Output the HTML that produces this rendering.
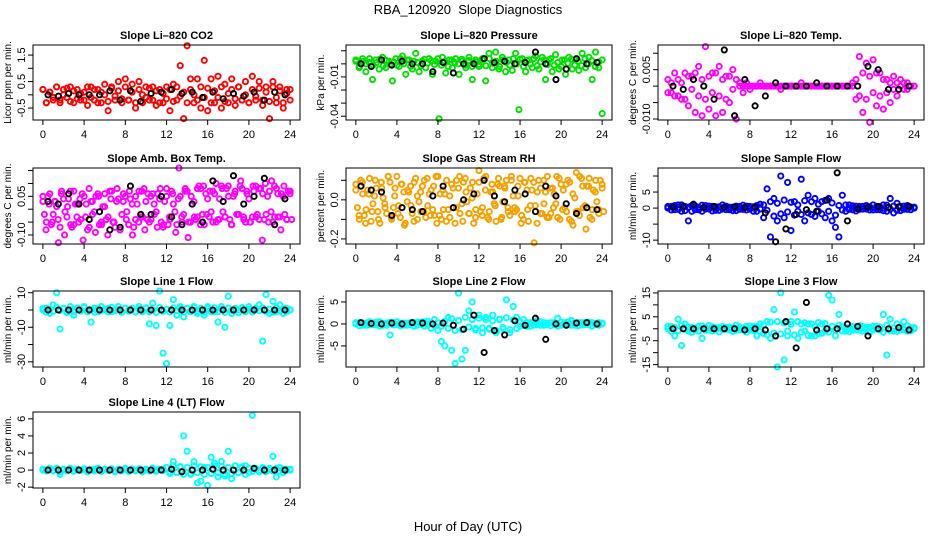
<!DOCTYPE html>
<html><head><meta charset="utf-8">
<style>
html,body{margin:0;padding:0;background:#fff;}
svg{display:block;font-family:"Liberation Sans",sans-serif;}
</style></head>
<body>
<svg id="chart" width="936" height="540" viewBox="0 0 936 540">
<text x="468" y="14" text-anchor="middle" font-size="13">RBA_120920&#160; Slope Diagnostics</text>
<text x="468" y="531" text-anchor="middle" font-size="13">Hour of Day (UTC)</text>
</svg>
<script>
// ---- data ----
const xTicks = [0,4,8,12,16,20,24];
const co2C = [0.2,-0.3,0.1,-0.2,0.3,-0.3,0.2,-0.1,0.3,-0.3,0.2,-0.2,0.1,-0.4,0.3,-0.2,0.2,-0.3,0.4,-0.6,0.3,-0.2,0.5,-0.3,0.6,-0.2,0.4,-0.5,0.5,-0.3,0.3,-0.2,0.3,-0.4,0.2,-0.3,0.3,-0.6,0.4,-0.2,1.1,-0.9,1.85,0.6,-0.3,0.6,-0.5,1.3,-0.6,0.6,-0.3,0.7,-0.5,0.4,-0.3,0.6,-0.4,0.3,-0.2,0.5,-0.3,0.7,-0.2,0.5,-0.4,0.3,-0.9,0.5,-0.3,0.3,-0.5,0.2,-0.2];
const co2B = [0.2,-0.3,0.1,-0.1,0.3,-0.2,0,0.25,-0.25,0.15,-0.15,0.05,-0.2,0.3,-0.1,0.2,-0.3,0.1,0,-0.25,0.25,-0.05,0.15,-0.15,0.3,-0.2,0.1,-0.3,0.2,0,-0.1,0.25,-0.2,0.15,-0.3,0.05,-0.15,0.2,-0.25,0.3,-0.05,0.1,-0.3,0.2,0,-0.2,0.3,-0.1,0.25,-0.3,0.15,-0.1,0.3,-0.25,0.05,0.2,-0.15,0.3,-0.2,0,-0.3,0.2,-0.05,0.25,-0.2,0.1,-0.25,0.3,-0.1,0.15,-0.3,0.05,0.2];
const co2K = [0.0,-0.05,0.05,0.0,0.0,0.0,0.15,-0.2,0.15,-0.25,0.05,0.1,0.2,0.05,0.1,-0.1,0.1,-0.15,0.05,-0.05,0.1,-0.2,0.1,0.0];
const presC = [0.002,-0.003,0.004,-0.006,0.001,-0.012,0.003,-0.004,0.005,-0.003,0.002,-0.013,0.004,-0.002,0.006,-0.008,0.003,-0.004,0.008,-0.006,0.002,-0.003,0.004,-0.008,0.002,-0.042,0.005,-0.007,0.003,-0.003,0.004,-0.008,0.002,-0.003,0.005,-0.012,0.003,-0.002,0.004,-0.013,0.008,-0.003,0.009,-0.004,0.005,-0.006,0.003,-0.005,0.008,-0.035,0.004,-0.006,0.003,-0.003,0.006,-0.004,0.005,-0.012,0.003,-0.006,0.007,-0.004,0.003,-0.008,0.005,-0.004,0.003,-0.005,0.008,-0.003,0.005,-0.012,0.009,-0.003,-0.038];
const presB = [0.003,-0.002,0.002,0,0.004,-0.001,0.001,0.0035,-0.0015,0.0025,-0.0005,0.0015,-0.001,0.004,0,0.003,-0.002,0.002,0.001,-0.0015,0.0035,0.0005,0.0025,-0.0005,0.004,-0.001,0.002,-0.002,0.003,0.001,0,0.0035,-0.001,0.0025,-0.002,0.0015,-0.0005,0.003,-0.0015,0.004,0.0005,0.002,-0.002,0.003,0.001,-0.001,0.004,0,0.0035,-0.002,0.0025,0,0.004,-0.0015,0.0015,0.003,-0.0005,0.004,-0.001,0.001,-0.002,0.003,0.0005,0.0035,-0.001,0.002,-0.0015,0.004,0,0.0025,-0.002,0.0015,0.003];
const presK = [0,-0.002,0.003,-0.001,0.002,0,0,-0.006,0.001,-0.007,0,0,0.004,0.001,0.002,0,0.001,0.009,0,-0.012,-0.004,0.004,0,0.001];
const tempC = [-0.002,0.001,-0.003,0.002,-0.004,0.004,-0.006,0.003,-0.008,0.006,-0.009,0.012,-0.007,0.004,-0.009,0.006,-0.008,0.003,-0.005,0.005,-0.010,0.001,-0.002,0.001,-0.001,0,0,0.001,0,0,0,0,0,-0.001,0,0,0,0,0,0.001,0,0,0,0,0,0,0,0,0,0,0,0,0,0,0.001,-0.004,0.009,-0.008,0.007,-0.011,0.008,-0.006,0.004,-0.007,0.002,-0.005,0.003,-0.003,0.002,-0.001,0.001,0,0];
const tempB = [0.002,-0.002,0.004,-0.003,0.001,-0.004,0.003,-0.001,0.004,-0.003,0.002,-0.004,0.003,-0.002,0.004,-0.003,0.002,-0.004,0.003,-0.001,0.002,0,0,0,0,0,0,0,0,0,0,0,0,0,0,0,0,0,0,0,0,0,0,0,0,0,0,0,0,0,0,0,0,0,0,0.002,-0.003,0.004,-0.004,0.003,-0.002,0.004,-0.003,0.002,-0.002,0.001,-0.001,0.001,0,0.001,-0.001,0,0];
const tempK = [0,-0.001,0.002,0,-0.004,0.011,-0.009,0.002,-0.006,-0.003,0.001,0,0,0,0.001,0,0,0,0,0.006,0.005,-0.001,-0.001,0];
const ambC = [0.05,-0.08,0.02,-0.05,0.03,-0.13,0.06,-0.10,0.01,-0.06,0.07,-0.03,0.04,-0.12,0.02,-0.07,0.03,-0.09,0.05,-0.06,0.06,-0.10,0.04,-0.05,0.08,-0.08,0.03,-0.04,0.07,-0.10,0.05,-0.05,0.07,-0.08,0.06,-0.04,0.02,-0.07,0.08,-0.06,0.05,-0.03,0.06,-0.09,0.16,-0.05,0.07,-0.11,0.05,-0.03,0.08,-0.06,0.09,-0.02,0.07,-0.05,0.10,-0.04,0.08,-0.03,0.09,-0.06,0.06,-0.02,0.11,-0.04,0.07,-0.05,0.09,-0.03,0.08,-0.12,0.10,-0.05,0.11,-0.03,0.06,-0.08,0.09,-0.04,0.07];
const ambB = [0.03,-0.05,0.06,-0.02,0.01,-0.07,0.04,-0.03,0.07,-0.06,0.02,-0.04,0.05,-0.08,0.03,-0.01,0.06,-0.05,0.01,-0.03,0.07,-0.07,0.04,-0.02,0.05,-0.06,0.02,-0.04,0.07,-0.03,0.03,-0.05,0.06,-0.01,0.04,-0.07,0.08,-0.04,0.02,-0.06,0.05,-0.02,0.07,-0.05,0.03,-0.03,0.08,-0.06,0.04,-0.01,0.06,-0.04,0.09,-0.03,0.05,-0.06,0.07,-0.02,0.08,-0.05,0.04,-0.03,0.09,-0.04,0.06,-0.02,0.07,-0.05,0.08,-0.03,0.05,-0.04,0.06];
const ambB2 = [-0.02,0.05,-0.06,0.03,-0.04,0.07,-0.01,0.04,-0.07,0.02,-0.05,0.06,-0.03,0.08,-0.02,0.05,-0.06,0.01,-0.04,0.07,-0.05,0.03,-0.08,0.06,-0.01,0.04,-0.07,0.02,-0.03,0.08,-0.04,0.05,-0.02,0.06,-0.05,0.03,-0.06,0.07,-0.01,0.04,-0.03,0.08,-0.05,0.02,-0.04,0.09,-0.02,0.06,-0.03,0.07,-0.05,0.04,-0.01,0.08,-0.04,0.05,-0.02,0.09,-0.03,0.06,-0.05,0.07,-0.02,0.08,-0.04,0.05,-0.01,0.09,-0.03,0.06,-0.02,0.07,-0.04];
const ambK = [0.03,0.02,0.06,0.02,-0.04,-0.01,-0.08,-0.07,0.09,-0.02,-0.02,0.05,-0.03,-0.06,0.02,-0.05,0.11,0.03,0.13,0.02,0.05,0.12,-0.06,0.04];
const rhC = [0.05,-0.08,0.09,-0.12,0.03,-0.06,0.10,-0.10,0.06,-0.04,0.12,-0.09,0.02,-0.07,0.08,-0.13,0.05,-0.03,0.09,-0.10,0.04,-0.06,0.11,-0.08,0.07,-0.12,0.03,-0.05,0.10,-0.09,0.06,-0.04,0.12,-0.11,0.04,-0.07,0.09,-0.05,0.15,-0.08,0.05,-0.10,0.08,-0.03,0.11,-0.09,0.06,-0.06,0.10,-0.04,0.07,-0.12,0.09,-0.05,0.11,-0.22,0.04,-0.07,0.10,-0.09,0.06,-0.04,0.12,-0.10,0.05,-0.06,0.09,-0.13,0.14,-0.08,0.07,-0.15,0.11,-0.05,0.10,-0.07,0.06];
const rhB = [0.08,-0.1,0.03,-0.05,0.11,-0.02,0.06,-0.12,0.01,-0.07,0.09,-0.04,0.12,-0.09,0.04,-0.01,0.07,-0.11,0.02,-0.06,0.1,-0.03,0.05,-0.08,0.12,-0.1,0.03,-0.05,0.08,-0.12,0.06,-0.02,0.11,-0.07,0.01,-0.09,0.09,-0.04,0.12,-0.06,0.04,-0.11,0.07,-0.01,0.1,-0.08,0.02,-0.05,0.11,-0.1,0.05,-0.03,0.09,-0.12,0.06,-0.02,0.12,-0.07,0.03,-0.09,0.08,-0.04,0.1,-0.11,0.01,-0.06,0.11,-0.03,0.07,-0.1,0.04,-0.05,0.08];
const rhB2 = [-0.04,0.1,-0.08,0.05,-0.11,0.02,-0.06,0.09,-0.02,0.12,-0.1,0.06,-0.03,0.08,-0.12,0.04,-0.07,0.11,-0.01,0.07,-0.09,0.03,-0.05,0.12,-0.08,0.05,-0.11,0.02,-0.04,0.1,-0.07,0.09,-0.01,0.06,-0.12,0.03,-0.06,0.11,-0.09,0.04,-0.02,0.08,-0.1,0.07,-0.04,0.12,-0.06,0.02,-0.08,0.09,-0.11,0.05,-0.03,0.1,-0.07,0.04,-0.09,0.06,-0.02,0.11,-0.05,0.08,-0.1,0.03,-0.06,0.12,-0.04,0.07,-0.09,0.05,-0.01,0.1,-0.06];
const rhK = [0.07,0.05,0.04,-0.08,-0.04,-0.05,-0.06,0.02,0.07,-0.04,0.0,0.03,0.10,0.02,-0.01,0.05,0.03,-0.06,0.07,0.02,-0.02,-0.07,-0.04,-0.05];
const sfC = [0,0.5,-0.5,1,-1,0.5,-4,0.8,-0.5,0.3,-1,0.8,-0.3,0.5,-0.7,0.4,-0.3,0.6,-0.5,0.3,-0.8,0.5,-0.4,0.6,-0.3,0.4,-1,1.2,-3,6,-9,3,-4,10,-3,8,-7,2,-1,9,-4,4,-2,3,-1,2,-3,3,-4,-6,-9,4,-1,1,-0.5,0.6,-0.4,0.5,-0.3,0.4,-0.6,0.5,-0.5,1,-1,3,-1.5,1.5,-0.8,0.6,-0.4,0.3,0];
const sfB = [0.5,-0.6,0.8,-0.4,1,-0.8,0.3,-1,0.7,-0.5,0.9,-0.3,0.6,-0.9,0.4,-0.7,1,-0.5,0.3,-0.8,0.6,-0.4,0.9,-0.6,0.5,-1,0.8,-0.3,1,-0.7,2,-2.5,1.5,-1.8,2.5,-1.2,1.8,-2.2,1,-2,2.3,-1.5,2,-2.6,1.2,-1.8,2.4,-1,1.6,-2.2,0.8,-0.6,1,-0.4,0.7,-0.9,0.5,-0.3,0.8,-0.6,1,-0.5,0.4,-0.8,0.9,-0.3,0.6,-0.7,0.5,-0.4,0.8,-0.5,0.3];
const sfK = [0.3,0.5,1.2,0.2,0.5,0.3,0.4,0.2,0.3,-1.5,-10.5,-6.5,-2,-0.5,-1,2.5,11,-4,-0.2,0.3,0.5,0.2,0.4,0.5];
const l1C = [0,1,-2,3,10,-11,1,-1,2,-3,1,0,2,-1,-7,1,-1,2,0,1,-1,0,2,-1,1,0,1,-1,2,-1,1,-8,4,-9,11,-25,-31,-9,6,-3,2,-4,1,-1,2,-2,1,-3,2,-1,-1,-7,2,-10,8,-2,1,0,1,-1,2,-1,0,3,-18,9,-2,5,-1,3,-2,1,0];
const l1B = [1,-1.2,0.5,-0.8,1.5,-0.3,0.8,-1.5,0.2,-1,1.2,-0.6,1.4,-0.9,0.4,-1.3,1,-0.2,0.7,-1.1,1.5,-0.5,0.3,-1.4,1.1,-0.7,0.9,-1.2,0.6,-0.4,1.3,-1,0.2,-1.5,1.4,-0.8,0.5,-1.1,1.2,-0.3,0.8,-1.3,1,-0.6,1.5,-0.9,0.4,-1.2,0.9,-0.5,1.3,-1,0.6,-1.4,1.1,-0.2,0.7,-1.5,1.4,-0.7,0.3,-1.1,1,-0.4,1.2,-0.9,0.5,-1.3,1.5,-0.6,0.8,-1,0.2];
const l1K = [0,0,0,0,0,0,0,0,0,0,0,0,0,0,0,0,0,0,0,0,0,0,0,0];
const l2C = [0,0.3,-0.3,0.2,-0.2,0.3,-0.2,0.5,-0.3,0.2,-2.5,0.3,-0.2,0.2,-0.3,0.2,-0.2,0.3,-0.3,0.4,-0.5,0.6,-1,1,-1.5,-4,-5,1.5,-6,-9,7,-8,-6,3,5,-1,2,-2,1,-1,2,-2,1,-1,5.5,-2,4,1.5,-0.5,1,-0.5,0.3,-0.3,0.8,-0.3,0.3,-0.2,0.3,-0.2,1.3,-0.3,0.3,-0.2,0.8,-0.3,0.3,-0.2,0.3,-0.2,0.3,-0.2,0.3,0];
const l2B = [0.3,-0.4,0.2,-0.3,0.5,-0.2,0.4,-0.5,0.1,-0.3,0.4,-0.2,0.5,-0.4,0.2,-0.3,0.3,-0.5,0.4,-0.1,0.5,-0.3,0.2,-0.4,0.3,-0.5,0.6,-1,1.2,-1.5,0.8,-1.3,1.5,-0.7,1,-1.4,1.3,-0.9,1.5,-1.2,0.7,-1.5,1.1,-0.8,1.4,-1.3,0.9,-1,0.5,-0.4,0.3,-0.5,0.4,-0.2,0.5,-0.3,0.2,-0.4,0.3,-0.5,0.4,-0.1,0.5,-0.3,0.2,-0.4,0.3,-0.2,0.4,-0.5,0.1,-0.3,0.2];
const l2K = [0.3,0.1,0,0.2,0,0.3,0.2,0,0.2,-0.3,-1.2,2,-6.5,-1.5,-2.5,0.7,-0.3,1.3,-3.5,0,-0.3,0.2,0.3,0];
const l3C = [0,1,-3,4,-7,2,-1,0.5,-0.5,1,-4,0.5,-0.5,0.8,-0.5,0.5,-0.3,0.6,-0.5,0.4,-0.6,0.8,-0.5,1,-0.5,1,-3,2,-2,3,-4,8,-16,15,-13,-1,3,7,-4,2,-1,2,-3,1,-2,2,-1,14,12,-3,6,1,-1,0.5,-0.5,0.8,-0.5,1,-0.3,0.5,-0.5,1,-0.5,6,-11,4,-1,2,-0.5,3,-1,0.5,0];
const l3B = [1,-1.2,0.5,-0.8,1.5,-0.3,0.8,-1.5,0.2,-1,1.2,-0.6,1.4,-0.9,0.4,-1.3,1,-0.2,0.7,-1.1,1.5,-0.5,0.3,-1.4,1.1,-0.7,0.9,-1.2,1.6,-2.5,2.8,-1.8,3,-2.2,2.4,-3,1.8,-2.6,3,-1.5,2.5,-2.8,2,-3,2.6,-1.9,2.2,-1.4,1,-0.6,1.5,-0.9,0.4,-1.2,0.9,-0.5,1.3,-1,0.6,-1.4,1.1,-0.2,0.7,-1.5,1.4,-0.7,0.3,-1.1,1,-0.4,1.2,-0.9,0.5];
const l3K = [0,0,0,0,0,0,0,-0.5,0,-0.5,-3,3,-8,11,-0.5,0,0,2,1,-3,0,0,0.5,-0.5];
const l4C = [0,0,0.1,-0.1,0.2,-0.5,0.1,0,0.1,-0.1,0.1,0,0.1,-0.1,0,0.1,0,-0.1,0.1,0,0.1,-0.1,0.1,0,0.1,0,0.1,-0.1,0.1,0,0.1,-0.1,0.2,0,0.1,0.1,0.3,-0.2,1,-0.3,0.4,4,2.2,-0.5,1,-1.5,-1.3,0.3,-1.8,1.5,0.8,-0.8,1,-0.7,2.2,-1,0.5,-0.3,0.3,0.5,-0.3,6.4,0.2,-0.2,0.3,-0.1,0.2,1.6,-0.8,0.3,-0.3,0.1,0];
const l4B = [0.1,-0.1,0.2,-0.05,0.15,-0.2,0.05,-0.1,0.2,-0.15,0.1,-0.05,0.15,-0.2,0.05,-0.1,0.2,-0.15,0.1,-0.05,0.15,-0.2,0.05,-0.1,0.2,-0.15,0.1,-0.05,0.15,-0.2,0.05,-0.1,0.2,-0.15,0.1,-0.05,0.3,-0.4,0.5,-0.3,0.4,-0.5,0.3,-0.4,0.5,-0.3,0.4,-0.5,0.3,-0.4,0.5,-0.3,0.4,-0.5,0.3,-0.4,0.5,-0.3,0.4,-0.5,0.2,-0.15,0.1,-0.05,0.15,-0.2,0.05,-0.1,0.2,-0.15,0.1,-0.05,0.1];
const l4K = [0,0,0,0,0,0,0,0,0,0,0,0,0.1,-0.2,0,0,0.1,0,0,0,0.2,0,0,0];

const panelTitles = ["Slope Li\u2013820 CO2","Slope Li\u2013820 Pressure","Slope Li\u2013820 Temp.","Slope Amb. Box Temp.","Slope Gas Stream RH","Slope Sample Flow","Slope Line 1 Flow","Slope Line 2 Flow","Slope Line 3 Flow","Slope Line 4 (LT) Flow"];
const yLabels = ["Licor ppm per min.","kPa per min.","degrees C per min.","degrees C per min.","percent per min.","ml/min per min.","ml/min per min.","ml/min per min.","ml/min per min.","ml/min per min."];
const yTicks = [[-0.5,0,0.5,1,1.5],[0.01,0,-0.01,-0.02,-0.03,-0.04],[0.01,0.005,0,-0.005,-0.01],[0.15,0.1,0.05,0,-0.05,-0.1],[0.1,0,-0.1,-0.2],[10,5,0,-5,-10],[10,0,-10,-20,-30],[5,0,-5],[15,10,5,0,-5,-10,-15],[6,4,2,0,-2]];
const yTickLabels = [["-0.5","","0.5","","1.5"],["","","-0.01","","","-0.04"],["","0.005","","","-0.010"],["","","0.05","","","-0.10"],["","0.0","","-0.2"],["","5","0","","-10"],["10","","-10","","-30"],["5","0","-5"],["15","","5","","-5","","-15"],["6","4","2","0","-2"]];
const bandSeries = [[co2B],[presB],[tempB],[ambB,ambB2],[rhB,rhB2],[sfB],[l1B],[l2B],[l3B],[l4B]];
const colorSeries = [co2C,presC,tempC,ambC,rhC,sfC,l1C,l2C,l3C,l4C];
const blackSeries = [co2K,presK,tempK,ambK,rhK,sfK,l1K,l2K,l3K,l4K];

// ---- layout (not data) ----
const colors = ["#ff0000","#00e000","#ff00ff","#ff00ff","#f5a000","#0000ff","#00ffff","#00ffff","#00ffff","#00ffff"];
const yDomains = [[-0.95,1.88],[-0.0429,0.0144],[-0.0103,0.0125],[-0.135,0.16],[-0.226,0.163],[-11.2,12.5],[-33,11],[-9.8,7.5],[-16,15.8],[-2.1,6.8]];
const cols = [[33,300],[346,612],[658,924]];
const rows = [[45,120,138],[168,244,262],[291,367,385],[412,488,506]];
const NS = "http://www.w3.org/2000/svg";
const svg = document.getElementById('chart');
function mk(tag, attrs, parent){const e=document.createElementNS(NS,tag);for(const k in attrs)e.setAttribute(k,attrs[k]);(parent||svg).appendChild(e);return e;}

for (let p=0;p<10;p++){
  const c = cols[p%3], r = rows[Math.floor(p/3)];
  const L=c[0],R=c[1],T=r[0],B=r[1];
  const xs = v => L + (v+0.96)/25.92*(R-L);
  const ys = v => B - (v-yDomains[p][0])/(yDomains[p][1]-yDomains[p][0])*(B-T);
  const g = mk('g',{});
  
  
  const t = mk('text',{x:(L+R)/2,y:T-6,'text-anchor':'middle','font-size':11,'font-weight':'bold'},g);
  t.textContent = panelTitles[p];
  
  
  const yl = mk('text',{x:0,y:0,'text-anchor':'middle','font-size':10,transform:`translate(${L-22},${(T+B)/2}) rotate(-90)`},g);
  yl.textContent = yLabels[p];
  
  
  // dense band series
  bandSeries[p].forEach((bs,bi)=>{
    bs.forEach((v,i)=>{
      const off = bi*0.15;
      const ci = mk('circle',{cx:xs(i*24/(bs.length-1)+off),cy:ys(v),r:2.6,fill:'none',stroke:colors[p],'stroke-width':1.9},g);
      
      
    });
  });
  // colored series
  const cs = colorSeries[p];
  cs.forEach((v,i)=>{
    const ci = mk('circle',{cx:xs(i*24/(cs.length-1)),cy:ys(v),r:2.6,fill:'none',stroke:colors[p],'stroke-width':1.9},g);
    
    
  });
  const ks = blackSeries[p];
  ks.forEach((v,i)=>{
    const ci = mk('circle',{cx:xs(i+0.5),cy:ys(v),r:2.6,fill:'none',stroke:'#000','stroke-width':1.9},g);
    
    
  });
  const bx = mk('rect',{x:L,y:T,width:R-L,height:B-T,fill:'none',stroke:'#000','stroke-width':1},g);
  
  
  mk('line',{x1:xs(0),x2:xs(24),y1:B,y2:B,stroke:'#000'},g);
  xTicks.forEach(v=>{
    mk('line',{x1:xs(v),x2:xs(v),y1:B,y2:B+5,stroke:'#000'},g);
    const tl = mk('text',{x:xs(v),y:r[2],'text-anchor':'middle','font-size':11},g);
    tl.textContent = v;
    
    
  });
  yTicks[p].forEach((v,i)=>{
    const y = ys(v);
    if (y < T-2 || y > B+2) return;
    mk('line',{x1:L-5,x2:L,y1:y,y2:y,stroke:'#000'},g);
    if (yTickLabels[p][i]) {
      const tl = mk('text',{x:0,y:0,'text-anchor':'middle','font-size':11,transform:`translate(${L-8},${y}) rotate(-90)`},g);
      tl.textContent = yTickLabels[p][i];
      
      
    }
  });
}
</script>
</body></html>
